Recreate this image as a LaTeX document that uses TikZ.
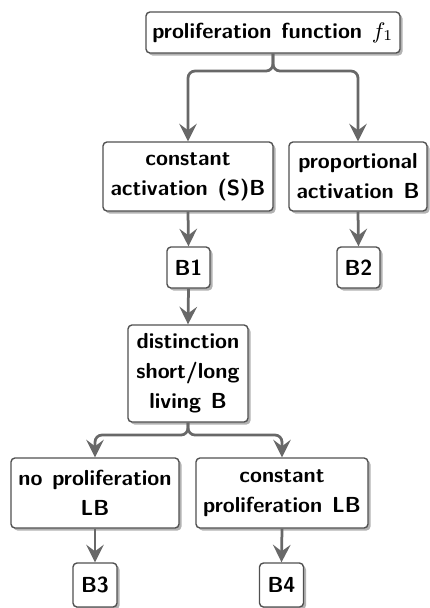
\documentclass[tikz,border=0pt]{standalone}
\usetikzlibrary{arrows.meta,shadows}
\definecolor{boxline}{HTML}{505050}
\definecolor{arrowc}{HTML}{686868}
\newcommand\myboxfont{\sffamily\bfseries\fontsize{8.7}{12}\selectfont\spaceskip=0.45em plus 0.1em\relax}
\begin{document}
\begin{tikzpicture}[x=0.4pt,y=-0.4pt,
  box/.style={draw=boxline,line width=0.55pt,rounded corners=1.6pt,fill=white,
    align=center,inner sep=0pt,font=\myboxfont,
    drop shadow={shadow xshift=1pt,shadow yshift=-1pt,fill=black,opacity=0.3}},
  conn/.style={draw=arrowc,line width=1.1pt,rounded corners=2.8pt,
    -{Stealth[length=7pt,width=7pt,inset=2.6pt]}}]
\useasboundingbox (0,0) rectangle (429,608);
\node[box,minimum width=101.6pt,minimum height=16.4pt] (top) at (273,32.5) {proliferation function $f_1$};
\node[box,minimum width=68pt,minimum height=27.6pt] (ca) at (188,176.5) {constant\\activation (S)B};
\node[box,minimum width=55.2pt,minimum height=27.6pt] (pa) at (358,176.5) {proportional\\activation B};
\node[box,minimum width=17.2pt,minimum height=16.4pt] (b1) at (188.5,267.5) {B1};
\node[box,minimum width=17.2pt,minimum height=16.4pt] (b2) at (358.5,267.5) {B2};
\node[box,minimum width=48pt,minimum height=38.8pt] (dist) at (188,373.5) {distinction\\short/long\\living B};
\node[box,minimum width=67.2pt,minimum height=28pt] (np) at (95,493) {no proliferation\\LB};
\node[box,minimum width=68.8pt,minimum height=28pt] (cp) at (282,493) {constant\\proliferation LB};
\node[box,minimum width=17.6pt,minimum height=17.6pt] (b3) at (95,585) {B3};
\node[box,minimum width=17.6pt,minimum height=17.6pt] (b4) at (281.5,585) {B4};
\coordinate (s1) at (top.south |- 0,71);
\coordinate (s2) at (dist.south |- 0,435);
\draw[conn] (top.south) -- (s1) -- (ca.north |- s1) -- (ca.north);
\draw[conn] (top.south) -- (s1) -- (pa.north |- s1) -- (pa.north);
\draw[conn] (ca.south) -- (b1.north);
\draw[conn] (pa.south) -- (b2.north);
\draw[conn] (b1.south) -- (dist.north);
\draw[conn] (dist.south) -- (s2) -- (np.north |- s2) -- (np.north);
\draw[conn] (dist.south) -- (s2) -- (cp.north |- s2) -- (cp.north);
\draw[conn] (np.south) -- (b3.north);
\draw[conn] (cp.south) -- (b4.north);
\end{tikzpicture}
\end{document}
